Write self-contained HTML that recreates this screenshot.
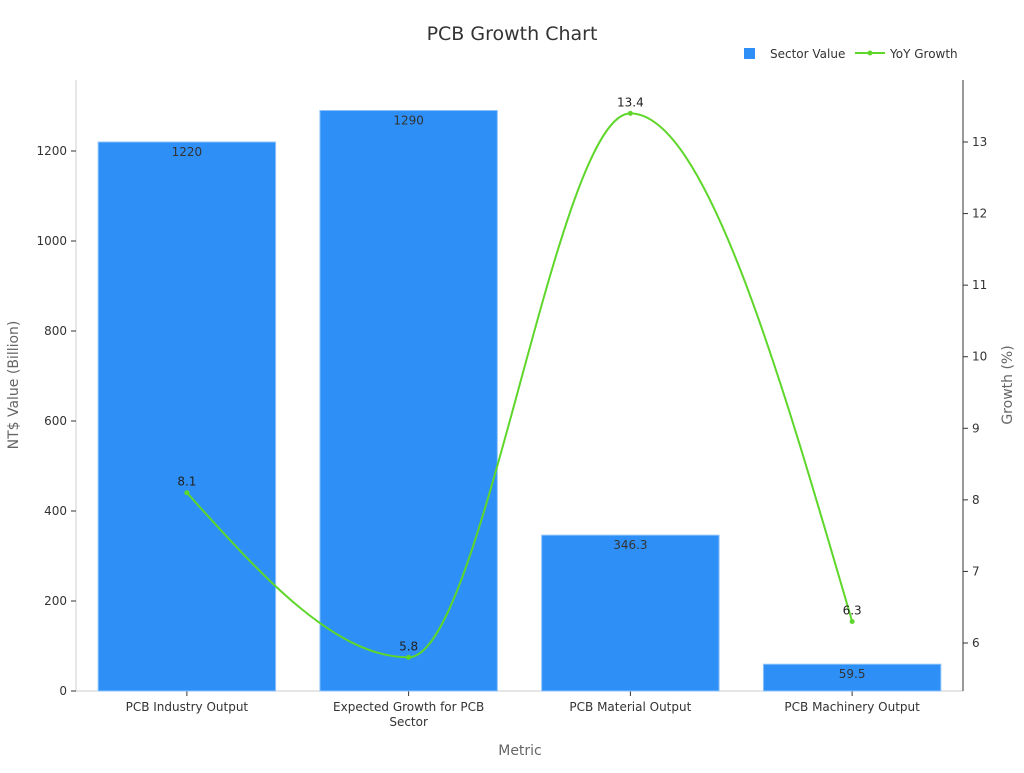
<!DOCTYPE html>
<html><head><meta charset="utf-8"><style>
body{margin:0;background:#fff;font-family:"Liberation Sans","DejaVu Sans",sans-serif}
svg text{font-family:"DejaVu Sans","Liberation Sans",sans-serif}
</style></head><body>
<svg id="c" width="1024" height="768" xmlns="http://www.w3.org/2000/svg">
<text x="512" y="40" text-anchor="middle" font-size="19" fill="#333">PCB Growth Chart</text>
<g>
<rect x="744" y="48" width="11" height="11" fill="#2e90f7"/>
<text x="770" y="58" font-size="12" fill="#333">Sector Value</text>
<line x1="855" y1="53" x2="885" y2="53" stroke="#5ed62a" stroke-width="2"/>
<circle cx="870" cy="53" r="2.5" fill="#5ed62a"/>
<text x="890" y="58" font-size="12" fill="#333">YoY Growth</text>
</g>
<g id="axes"></g>
<g id="bars"></g>
<g id="line"></g>
<text x="520" y="755" text-anchor="middle" font-size="14" fill="#666">Metric</text>
<text transform="translate(18,385) rotate(-90)" text-anchor="middle" font-size="14" fill="#666">NT$ Value (Billion)</text>
<text transform="translate(1012,385) rotate(-90)" text-anchor="middle" font-size="14" fill="#666">Growth (%)</text>
</svg>
<script>
const categories=["PCB Industry Output","Expected Growth for PCB|Sector","PCB Material Output","PCB Machinery Output"];
const sectorValues=[1220,1290,346.3,59.5];
const growthValues=[8.1,5.8,13.4,6.3];
const leftTicks=[0,200,400,600,800,1000,1200];
const rightTicks=[6,7,8,9,10,11,12,13];
const NS="http://www.w3.org/2000/svg";
const X0=76,X1=963,Y0=691,Y1=80;
const yL=v=>Y0-v*(540/1200);
const yR=v=>643-(v-6)*(501/7);
const bw=(X1-X0)/categories.length;
const xC=i=>X0+bw*(i+0.5);
function mk(tag,attrs,parent,txt){const e=document.createElementNS(NS,tag);for(const k in attrs)e.setAttribute(k,attrs[k]);if(txt!==undefined)e.textContent=txt;document.getElementById(parent).appendChild(e);return e;}
let e;
e=mk('line',{x1:X0,y1:Y1,x2:X0,y2:Y0,stroke:'#ccc'},'axes');


e=mk('line',{x1:X0,y1:Y0,x2:X1,y2:Y0,stroke:'#ccc'},'axes');


e=mk('line',{x1:X1,y1:Y1,x2:X1,y2:Y0,stroke:'#333'},'axes');


leftTicks.forEach(t=>{const y=yL(t);mk('line',{x1:X0-5,y1:y,x2:X0,y2:y,stroke:'#333'},'axes');
e=mk('text',{x:X0-9,y:y+4,'text-anchor':'end','font-size':12,fill:'#333'},'axes',t);

});
rightTicks.forEach(t=>{const y=yR(t);mk('line',{x1:X1,y1:y,x2:X1+5,y2:y,stroke:'#333'},'axes');
e=mk('text',{x:X1+9,y:y+4,'font-size':12,fill:'#333'},'axes',t);

});
categories.forEach((c,i)=>{const x=xC(i);mk('line',{x1:x,y1:Y0,x2:x,y2:Y0+5,stroke:'#333'},'axes');
c.split('|').forEach((p,j)=>{e=mk('text',{x:x,y:Y0+20+j*15,'text-anchor':'middle','font-size':12,fill:'#333'},'axes',p);

});
const bwid=bw*0.8,y=yL(sectorValues[i]);
e=mk('rect',{x:x-bwid/2,y:y,width:bwid,height:Y0-y,fill:'#2e90f7',stroke:'#8cc2fb','stroke-width':1},'bars');


e=mk('text',{x:x,y:y+14,'text-anchor':'middle','font-size':12,fill:'#333'},'bars',sectorValues[i]);

});
// monotone-X cubic (d3 style)
const pts=growthValues.map((v,i)=>[xC(i),yR(v)]);
const n=pts.length,h=bw,ys=pts.map(p=>p[1]);
const sec=[];for(let i=0;i<n-1;i++)sec.push((ys[i+1]-ys[i])/h);
const t=new Array(n);
for(let i=1;i<n-1;i++){const s0=sec[i-1],s1=sec[i];
t[i]=(s0*s1<=0)?0:(Math.sign(s0)+Math.sign(s1))*Math.min(Math.abs(s0),Math.abs(s1),0.5*Math.abs((s0+s1)/2));}
t[0]=n>2?(3*sec[0]-t[1])/2:sec[0];
t[n-1]=n>2?(3*sec[n-2]-t[n-2])/2:sec[n-2];
let d='M'+pts[0].join(',');
for(let i=0;i<n-1;i++){
d+=' C'+(pts[i][0]+h/3)+','+(ys[i]+t[i]*h/3)+' '+(pts[i+1][0]-h/3)+','+(ys[i+1]-t[i+1]*h/3)+' '+pts[i+1].join(',');}
e=mk('path',{d:d,fill:'none',stroke:'#5ed62a','stroke-width':2},'line');


pts.forEach((p,i)=>{e=mk('circle',{cx:p[0],cy:p[1],r:2.5,fill:'#5ed62a'},'line');


e=mk('text',{x:p[0],y:p[1]-7,'text-anchor':'middle','font-size':12,fill:'#222'},'line',growthValues[i]);

});
</script>
</body></html>
